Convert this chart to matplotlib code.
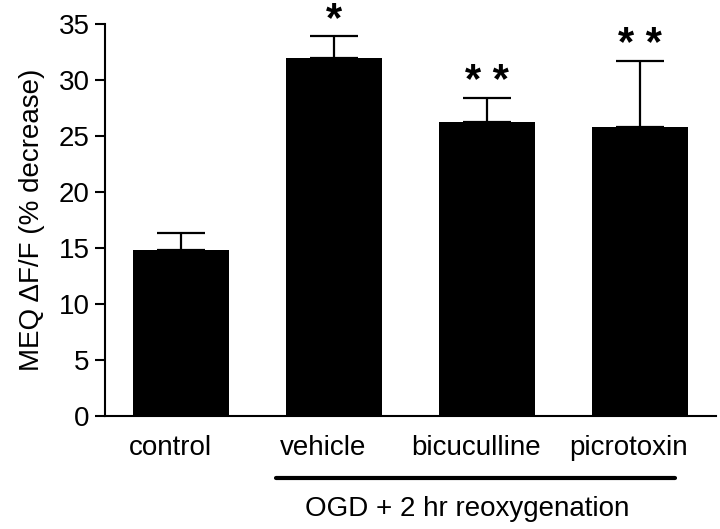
import numpy as np
import matplotlib
matplotlib.use('Agg')
import matplotlib.pyplot as plt
from matplotlib import transforms

plt.rcParams['font.family'] = ['Liberation Sans', 'DejaVu Sans']

# 数据
groups = ['control', 'vehicle', 'bicuculline', 'picrotoxin']
means = [14.8, 32.0, 26.2, 25.8]
sems = [1.5, 1.9, 2.2, 5.9]
stars = ['', '*', '* *', '* *']
y_ticks = [0, 5, 10, 15, 20, 25, 30, 35]
group_label = 'OGD + 2 hr reoxygenation'

fig = plt.figure(figsize=(7.2, 5.29), dpi=100)
ax = fig.add_axes([105 / 720, 1 - 415.7 / 529, 611 / 720, 391.7 / 529])

x = np.arange(len(groups))
ax.bar(x, means, width=0.63, color='black', edgecolor='black', linewidth=0, zorder=2)
ax.errorbar(x, means, yerr=[np.zeros(len(sems)), sems], fmt='none',
            ecolor='black', elinewidth=1.6, capsize=17, capthick=1.6, zorder=1)

# 显著性星号
for xi, m, s, st in zip(x, means, sems, stars):
    if st:
        ax.annotate(st, xy=(xi, m + s), xytext=(0, -3), textcoords='offset points',
                    ha='center', va='bottom', fontsize=30, fontweight='bold',
                    annotation_clip=False)

ax.set_xlim(-0.5, 3.5)
ax.set_ylim(0, 35)
ax.set_yticks(y_ticks)
ax.set_xticks(x)
ax.set_xticklabels(groups)
ax.tick_params(axis='y', direction='out', length=7.2, width=1.5, labelsize=20, pad=4)
ax.tick_params(axis='x', length=0, labelsize=20, pad=14)
for lab in ax.get_xticklabels():
    lab.set_transform(lab.get_transform() + transforms.ScaledTranslation(-11 / 100, 0, fig.dpi_scale_trans))

for side in ['top', 'right']:
    ax.spines[side].set_visible(False)
ax.spines['left'].set_linewidth(1.5)
ax.spines['bottom'].set_linewidth(1.5)

ax.set_ylabel('MEQ \u0394F/F (% decrease)', fontsize=20, labelpad=10)

# 分组下划线与标签
trans = transforms.blended_transform_factory(ax.transData, ax.transAxes)
ax.plot([0.62, 3.23], [-0.159, -0.159], color='black', linewidth=3, transform=trans,
        clip_on=False, solid_capstyle='round')
ax.text(1.87, -0.205, group_label, transform=trans, ha='center', va='top', fontsize=20)

fig.savefig('out.png', dpi=100)
plt.close(fig)
